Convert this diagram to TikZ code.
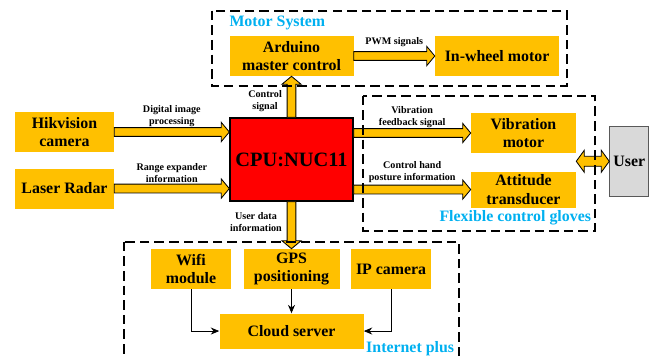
\documentclass[tikz,border=0pt]{standalone}
\usepackage{fontspec}
\setmainfont{Liberation Serif}
\usepackage{xcolor}
\usepackage{tikz}
\usetikzlibrary{positioning, calc, arrows.meta}
\definecolor{hwOrange}{RGB}{255, 192, 0}
\definecolor{hwRed}{RGB}{255, 0, 0}
\definecolor{hwCyan}{RGB}{0, 176, 240}
\definecolor{hwGray}{RGB}{217, 217, 217}
\definecolor{hwDark}{RGB}{89, 89, 89}
\newcommand{\shaftw}{0.11cm}
\newcommand{\headw}{0.24cm}
\newcommand{\headl}{0.2cm}
% block arrow from #1 to #2
\newcommand{\fatarrow}[2]{%
  \filldraw[blockflow]
    ($(#1)!\shaftw!90:(#2)$) --
    ($(#2)!\headl!(#1)!\shaftw!-90:(#1)$) --
    ($(#2)!\headl!(#1)!\headw!-90:(#1)$) --
    (#2) --
    ($(#2)!\headl!(#1)!\headw!90:(#1)$) --
    ($(#2)!\headl!(#1)!\shaftw!90:(#1)$) --
    ($(#1)!\shaftw!-90:(#2)$) -- cycle;}
% block arrow with two heads
\newcommand{\fatdouble}[2]{%
  \filldraw[blockflow]
    ($(#1)!\headl!(#2)!\shaftw!90:(#2)$) --
    ($(#2)!\headl!(#1)!\shaftw!-90:(#1)$) --
    ($(#2)!\headl!(#1)!\headw!-90:(#1)$) --
    (#2) --
    ($(#2)!\headl!(#1)!\headw!90:(#1)$) --
    ($(#2)!\headl!(#1)!\shaftw!90:(#1)$) --
    ($(#1)!\headl!(#2)!\shaftw!-90:(#2)$) --
    ($(#1)!\headl!(#2)!\headw!-90:(#2)$) --
    (#1) --
    ($(#1)!\headl!(#2)!\headw!90:(#2)$) -- cycle;}
\tikzset{
    base/.style={
        font=\bfseries\fontsize{11.3}{13}\selectfont,
        align=center
    },
    block/.style={
        base,
        rectangle,
        fill=hwOrange,
        inner sep=0pt,
        minimum height=1cm
    },
    cpubox/.style={
        base,
        rectangle,
        fill=hwRed,
        draw=black,
        line width=1pt,
        minimum width=3.075cm,
        minimum height=2.075cm,
        font=\bfseries\fontsize{14.5}{17}\selectfont
    },
    userbox/.style={
        base,
        rectangle,
        fill=hwGray,
        draw=hwDark,
        line width=0.8pt,
        inner sep=0pt,
        minimum width=0.975cm,
        minimum height=1.75cm
    },
    zone/.style={
        draw=black,
        line width=1.2pt,
        dash pattern=on 6.8pt off 3.6pt
    },
    zonelabel/.style={
        font=\bfseries\fontsize{11.3}{13}\selectfont,
        text=hwCyan,
        inner sep=0pt
    },
    note/.style={
        font=\bfseries\fontsize{7.2}{8.5}\selectfont,
        align=center,
        inner sep=1pt
    },
    blockflow/.style={
        draw=black,
        fill=hwOrange,
        line width=0.6pt,
        line join=miter
    },
    thinflow/.style={
        -{Stealth[length=6pt, width=5pt]},
        line width=0.6pt,
        color=black
    }
}
\begin{document}
\begin{tikzpicture}
  \useasboundingbox (0,0) rectangle (16.425,-8.95);

  % Central unit
  \node[cpubox] (cpu) at (7.2875,-3.9875) {CPU:NUC11};

  % Sensors
  \node[block, minimum width=2.475cm, left=2.875cm of cpu, yshift=0.6875cm] (hik) {Hikvision\\camera};
  \node[block, minimum width=2.475cm, below=0.4cm of hik] (radar) {Laser Radar};

  % Motor system
  \node[block, minimum width=3.1cm, above=1.025cm of cpu] (arduino) {Arduino\\master control};
  \node[block, minimum width=3.1cm, right=2.025cm of arduino] (wheel) {In-wheel motor};

  % Gloves
  \node[block, minimum width=2.625cm, right=2.925cm of cpu, yshift=0.6625cm] (vib) {Vibration\\motor};
  \node[block, minimum width=2.625cm, minimum height=0.9cm, below=0.45cm of vib] (att) {Attitude\\transducer};
  \node[userbox, right=0.825cm of vib.south east, yshift=-0.2cm] (user) {User};

  % Internet plus
  \node[block, minimum width=2.4cm, below=1.175cm of cpu] (gps) {GPS\\positioning};
  \node[block, minimum width=2cm, left=0.3cm of gps] (wifi) {Wifi\\module};
  \node[block, minimum width=2cm, right=0.275cm of gps] (ipcam) {IP camera};
  \node[block, minimum width=3.6cm, minimum height=0.875cm, below=0.6cm of gps] (cloud) {Cloud server};

  % Block arrows
  \coordinate (hikend) at (cpu.west |- hik.east);
  \coordinate (radarend) at (cpu.west |- radar.east);
  \coordinate (vibstart) at (cpu.east |- vib.west);
  \coordinate (attstart) at (cpu.east |- att.west);
  \coordinate (userstart) at (vib.east |- user.west);
  \fatarrow{hik.east}{hikend}
  \fatarrow{radar.east}{radarend}
  \fatarrow{vibstart}{vib.west}
  \fatarrow{attstart}{att.west}
  \fatarrow{arduino.east}{wheel.west}
  \fatarrow{cpu.north}{arduino.south}
  \fatarrow{cpu.south}{gps.north}
  {\renewcommand{\headw}{0.275cm}\renewcommand{\shaftw}{0.125cm}%
   \fatdouble{userstart}{user.west}}

  % Thin arrows
  \draw[thinflow] (wifi.south) |- (cloud.west);
  \draw[thinflow] (gps.south) -- (cloud.north);
  \draw[thinflow] (ipcam.south) |- (cloud.east);

  % Arrow labels
  \coordinate (hikmid) at ($(hik.east)!0.5!(hikend)$);
  \coordinate (radarmid) at ($(radar.east)!0.5!(radarend)$);
  \coordinate (vibmid) at ($(vibstart)!0.5!(vib.west)$);
  \coordinate (attmid) at ($(attstart)!0.5!(att.west)$);
  \coordinate (pwmmid) at ($(arduino.east)!0.5!(wheel.west)$);
  \coordinate (ctrlmid) at ($(cpu.north)!0.5!(arduino.south)$);
  \coordinate (datamid) at ($(cpu.south)!0.5!(gps.north)$);
  \node[note, above=0.1cm of hikmid] (hiknote) {Digital image\\processing};
  \node[note, above=0.1cm of radarmid] (radarnote) {Range expander\\information};
  \node[note, above=0.1cm of vibmid] (vibnote) {Vibration\\feedback signal};
  \node[note, above=0.12cm of attmid] (attnote) {Control hand\\posture information};
  \node[note, above=0.2cm of pwmmid] (pwmnote) {PWM signals};
  \node[note, left=0.2cm of ctrlmid, yshift=-0.1cm] (ctrlnote) {Control\\signal};
  \node[note, left=0.2cm of datamid, yshift=0.09cm] (datanote) {User data\\information};

  % Subsystems
  \draw[zone] ($(arduino.north west)+(-0.4375,0.625)$) rectangle ($(wheel.south east)+(0.1875,-0.25)$);
  \draw[zone] ($(vib.north west)+(-2.7,0.425)$) rectangle ($(att.south east)+(0.475,-0.575)$);
  \draw[zone] ($(wifi.north west)+(-0.6625,0.175)$) rectangle ($(ipcam.east |- cloud.south)+(0.6875,-0.6)$);
  \node[zonelabel, anchor=west] (motorname) at ($(arduino.north west)+(0,0.325)$) {Motor System};
  \node[zonelabel, anchor=east] (glovename) at ($(att.south east)+(0.375,-0.25)$) {Flexible control gloves};
  \node[zonelabel, anchor=east] (netname) at ($(ipcam.east |- cloud.south)+(0.575,0)$) {Internet plus};
\end{tikzpicture}
\end{document}
